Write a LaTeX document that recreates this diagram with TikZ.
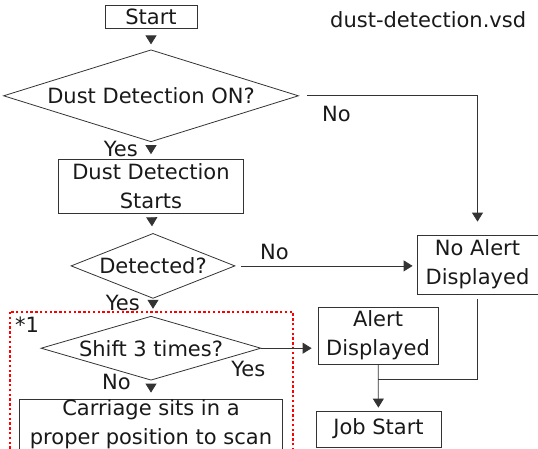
\documentclass[tikz,border=0pt]{standalone}
\usepackage{fontspec}
\setmainfont{DejaVu Sans}
\usepackage{xcolor}
\usetikzlibrary{arrows.meta, positioning, shapes.geometric, calc}

\begin{document}
\begin{tikzpicture}[x=1pt, y=-1pt, >={Triangle[width=11pt,length=9pt]},
        every node/.style={font=\fontsize{21}{29}\selectfont, text=black!90},
        box/.style={rectangle, draw=black!80, line width=0.8pt, align=center, inner sep=0pt},
        decision/.style={diamond, draw=black!80, line width=0.8pt, align=center, inner sep=0pt},
        lbl/.style={inner sep=0pt},
        conn/.style={draw=black!80, line width=0.8pt},
        dotbox/.style={draw=red, line width=2pt, dash pattern=on 2.4pt off 2.4pt}]
        \useasboundingbox (0,0) rectangle (538,448);

        \node (start) [box, minimum width=92pt, minimum height=23pt] at (151,16.5) {Start};
        \node (d1) [decision, aspect=3.2, minimum width=295pt, minimum height=92pt, below=21pt of start] {Dust Detection ON?};
        \node (dds) [box, minimum width=185pt, minimum height=54pt, below=17pt of d1] {Dust Detection\\Starts};
        \node (d2) [decision, aspect=2.52, minimum width=164pt, minimum height=65pt, below=19pt of dds, xshift=2pt] {Detected?};
        \node (d3) [decision, aspect=3.44, minimum width=220pt, minimum height=64pt, below=17pt of d2, xshift=-2pt] {Shift 3 times?};
        \node (carriage) [box, minimum width=263pt, inner ysep=1pt, text depth=14pt, below=18pt of d3] {Carriage sits in a\\proper position to scan};

        \node (noalert) [box, minimum width=121pt, minimum height=59pt] at (477.5,264.5) {No Alert\\Displayed};
        \node (alert) [box, minimum width=120pt, minimum height=57pt] at (378,335.5) {Alert\\Displayed};
        \node (job) [box, minimum width=125pt, minimum height=36pt] at (378.5,429) {Job Start};

        \node (file) [lbl, anchor=base west] at (330,27) {dust-detection.vsd};
        \node (mark) [lbl, anchor=north west] at (15,317) {*1};
        \draw[dotbox] (10,312) rectangle (293,470);

        \draw[conn, ->, shorten <=8pt, shorten >=5pt] (start) -- (d1);
        \draw[conn, ->, shorten <=3pt, shorten >=5pt] (d1) -- (dds);
        \draw[conn, ->, shorten <=4pt, shorten >=7pt] (dds) -- (d2);
        \draw[conn, ->, shorten <=3pt, shorten >=7pt] (d2.south) -- (d2.south |- d3.north);
        \draw[conn, ->, shorten <=5pt, shorten >=6pt] (d3.south) -- (d3.south |- carriage.north);
        \draw[conn, ->, shorten <=8pt, shorten >=13pt] (d1.east) -| (noalert.north);
        \draw[conn, ->, shorten <=6pt, shorten >=4pt] (d2.east) -- (d2.east -| noalert.west);
        \draw[conn, ->, shorten >=6pt] (d3.east) -- (d3.east -| alert.west);
        \draw[conn, ->, shorten >=3pt] (alert) -- (job);
        \coordinate (mrg) at ($(alert.south)!0.32!(job.north)$);
        \draw[conn, shorten <=5pt] (noalert.south) |- (mrg);

        \node (yes1) [lbl, anchor=north east, xshift=-13pt, yshift=1pt] at (d1.south) {Yes};
        \node (yes2) [lbl, anchor=north east, xshift=-13pt, yshift=4pt] at (d2.south) {Yes};
        \node (no3) [lbl, anchor=north east, xshift=-20pt, yshift=7pt] at (d3.south) {No};
        \node (yes3) [lbl, anchor=north east, xshift=4pt, yshift=-13pt] at (d3.east) {Yes};
        \node (no1) [lbl, anchor=north west] at (322,106) {No};
        \node (no2) [lbl, anchor=south west] at (260,260) {No};
    \end{tikzpicture}
\end{document}
